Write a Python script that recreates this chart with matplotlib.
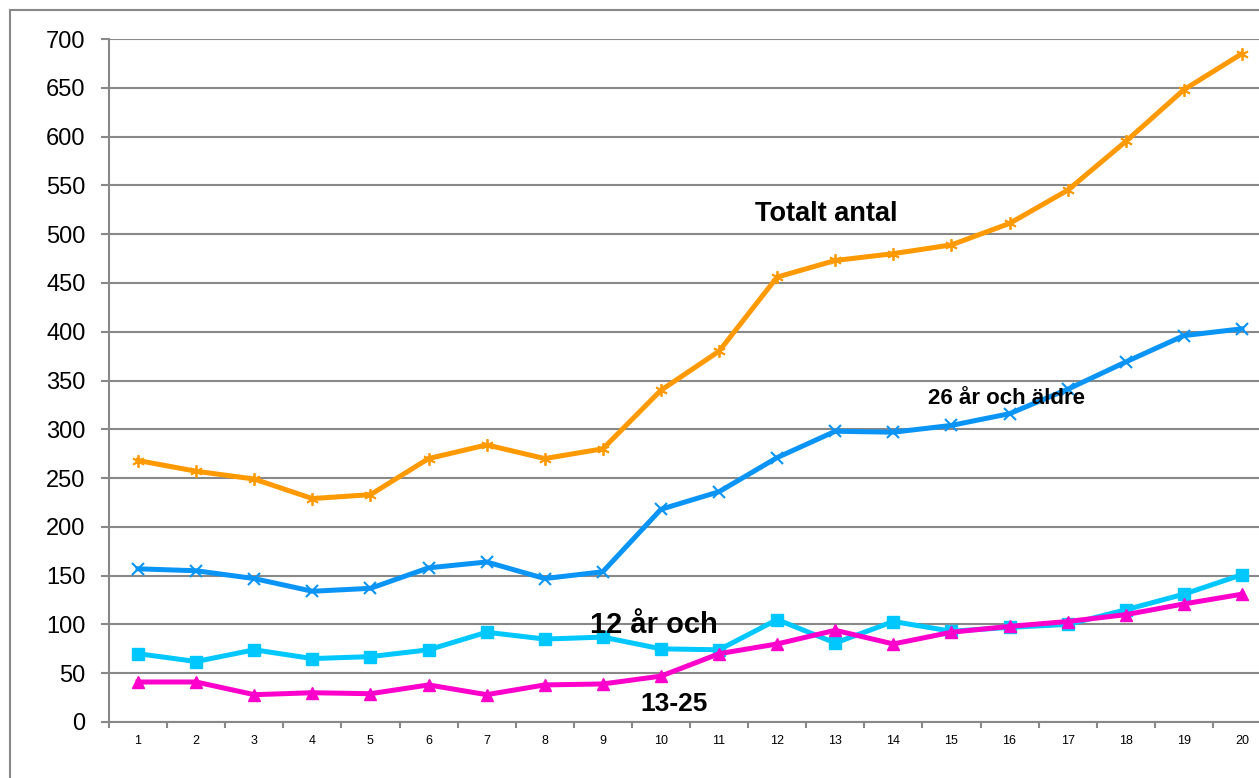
import matplotlib
matplotlib.use("Agg")
import matplotlib.pyplot as plt
from matplotlib.patches import Rectangle
from matplotlib.ticker import FixedLocator, NullFormatter

plt.rcParams['font.family'] = ['Liberation Sans', 'DejaVu Sans']

categories = list(range(1, 21))
totalt = [268, 257, 249, 229, 233, 270, 284, 270, 280, 340, 380, 456, 473, 480, 489, 511, 545, 595, 648, 685]
aldre26 = [157, 155, 147, 134, 137, 158, 164, 147, 154, 218, 236, 271, 298, 297, 304, 316, 341, 369, 396, 403]
yngre12 = [70, 62, 74, 65, 67, 74, 92, 85, 87, 75, 74, 105, 81, 103, 93, 97, 100, 115, 131, 151]
ung13_25 = [41, 41, 28, 30, 29, 38, 28, 38, 39, 47, 70, 80, 94, 80, 92, 98, 103, 110, 121, 131]
yticks = list(range(0, 701, 50))

W, H = 1259, 778
fig = plt.figure(figsize=(W / 100, H / 100), dpi=100)
fig.patch.set_facecolor('white')

# outer chart border (extends beyond right/bottom edge)
fig.patches.append(Rectangle((10 / W, -0.2), 1.2, 1.2 - 10 / H, transform=fig.transFigure,
                             fill=False, edgecolor='#888888', linewidth=1.5, zorder=0))

ax = fig.add_axes([109 / W, 56 / H, (1271 - 109) / W, (722 - 39) / H])
ax.set_xlim(0.5, 20.5)
ax.set_ylim(0, 700)

ax.plot(categories, totalt, color='#FF9900', lw=3.6, marker=(6, 2, 0), ms=9, mew=1.3, zorder=4)
ax.plot(categories, aldre26, color='#0A94F5', lw=3.6, marker='x', ms=8, mew=1.5, zorder=4)
ax.plot(categories, yngre12, color='#00C8FF', lw=3.6, marker='s', ms=8.5, zorder=4)
ax.plot(categories, ung13_25, color='#FF00CC', lw=3.6, marker='^', ms=8.5, zorder=5)

ax.set_yticks(yticks)
ax.set_yticklabels([str(v) for v in yticks], fontsize=17)
ax.tick_params(axis='y', length=6, width=1.5, color='#888888', pad=11)

ax.xaxis.set_major_locator(FixedLocator([i + 0.5 for i in range(0, 21)]))
ax.xaxis.set_major_formatter(NullFormatter())
ax.xaxis.set_minor_locator(FixedLocator(categories))
ax.set_xticklabels([str(c) for c in categories], minor=True, fontsize=9)
ax.tick_params(axis='x', which='major', length=4, width=1.5, color='#888888')
ax.tick_params(axis='x', which='minor', length=0, pad=9)

ax.grid(axis='y', color='#888888', lw=1.5)
ax.set_axisbelow(True)
for s in ['top', 'right']:
    ax.spines[s].set_visible(False)
for s in ['left', 'bottom']:
    ax.spines[s].set_color('#888888')
    ax.spines[s].set_linewidth(1.5)

ax.text(11.62, 521, 'Totalt antal', fontsize=19.5, fontweight='bold', va='center', ha='left', zorder=6)
ax.text(14.6, 332, '26 år och äldre', fontsize=16, fontweight='bold', va='center', ha='left', zorder=6)
ax.text(8.78, 99, '12 år och', fontsize=21, fontweight='bold', va='center', ha='left', zorder=6)
ax.text(9.64, 18, '13-25', fontsize=19, fontweight='bold', va='center', ha='left', zorder=6)

fig.savefig('out.png', dpi=100)
